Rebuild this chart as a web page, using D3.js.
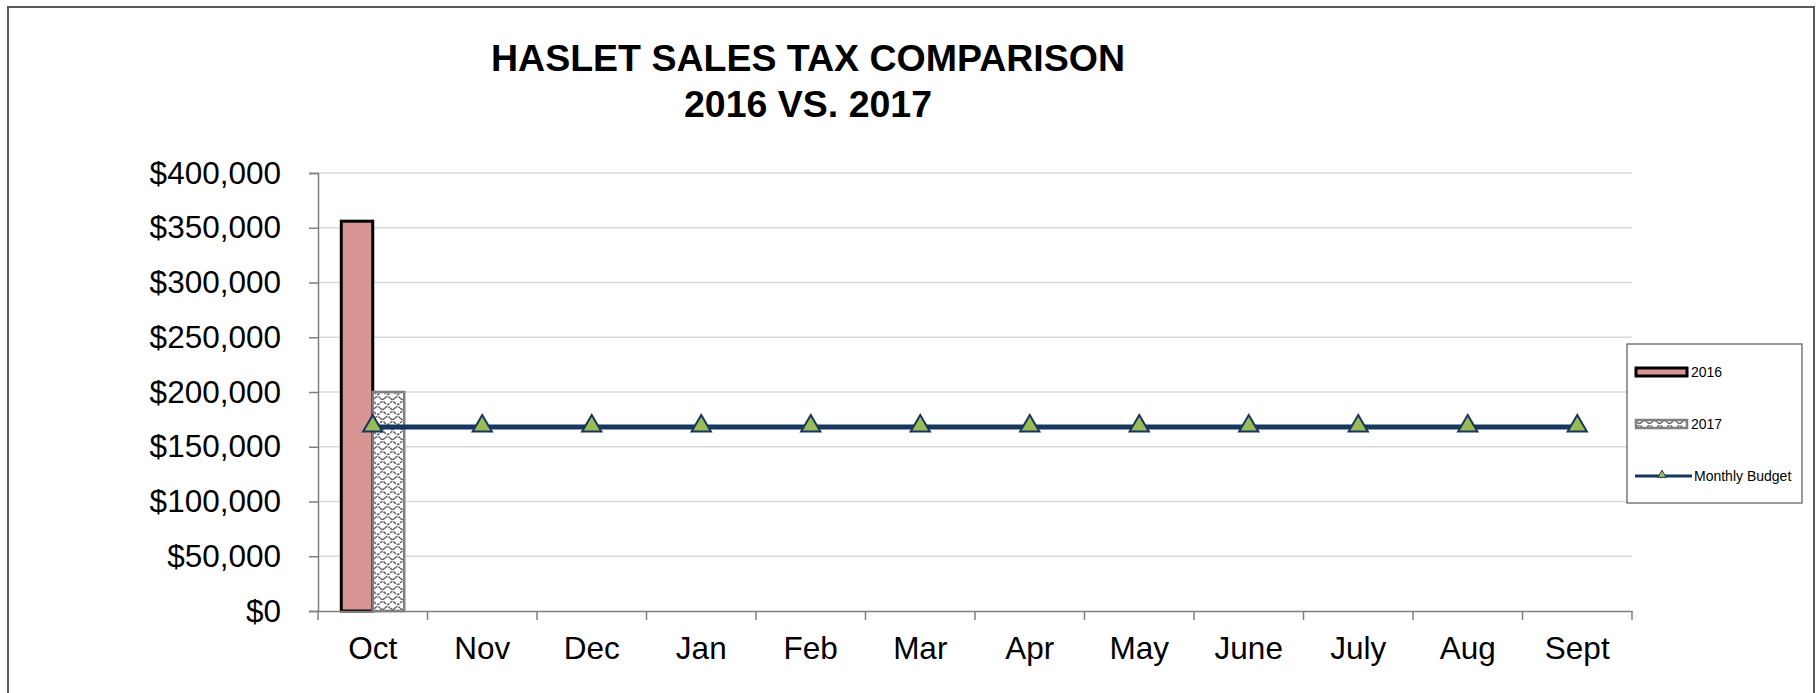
<!DOCTYPE html>
<html>
<head>
<meta charset="utf-8">
<script src="https://cdn.jsdelivr.net/npm/d3@7"></script>
<style>
  body { margin: 0; background: #fff; }
  svg text { font-family: "Liberation Sans", Arial, sans-serif; }
</style>
</head>
<body>
<script>
// chart data
var months = ["Oct", "Nov", "Dec", "Jan", "Feb", "Mar", "Apr", "May", "June", "July", "Aug", "Sept"];
var sales2016 = [356000, null, null, null, null, null, null, null, null, null, null, null];
var sales2017 = [200000, null, null, null, null, null, null, null, null, null, null, null];
var budget = [168000, 168000, 168000, 168000, 168000, 168000, 168000, 168000, 168000, 168000, 168000, 168000];
var yTicks = [0, 50000, 100000, 150000, 200000, 250000, 300000, 350000, 400000];
var seriesNames = ["2016", "2017", "Monthly Budget"];
var titleLines = ["HASLET SALES TAX COMPARISON", "2016 VS. 2017"];

//Width and height
var w = 1818;
var h = 693;

var svg = d3.select("body").append("svg").attr("width", w).attr("height", h);

// pattern for the 2017 bars
var defs = svg.append("defs");
var pat = defs.append("pattern").attr("id", "scales")
  .attr("patternUnits", "userSpaceOnUse")
  .attr("width", 10).attr("height", 10);
pat.append("rect").attr("width", 10).attr("height", 10).attr("fill", "#fff");
pat.append("path")
  .attr("d", "M0,3 Q2.5,0 5,3 Q7.5,6 10,3 M0,8 L2.5,10 M5,8 Q7.5,5 10,8 M5,8 L2.5,10")
  .attr("fill", "none").attr("stroke", "#666").attr("stroke-width", 1.5)
  .attr("stroke-dasharray", "3,1");

// outer frame
svg.append("rect").attr("x", 8).attr("y", 7).attr("width", 1806).attr("height", 760)
  .attr("fill", "#fff").attr("stroke", "#595959").attr("stroke-width", 2);

// title
svg.selectAll("text.title").data(titleLines).enter()
  .append("text").attr("class", "title")
  .attr("x", 808)
  .attr("y", function(d, i) { return 71 + i * 46; })
  .attr("text-anchor", "middle")
  .attr("font-size", 37.5).attr("font-weight", "bold")
  .text(function(d) { return d; });

// scales
var x = d3.scaleBand().domain(months).range([318, 1632]).padding(0);
var x1 = d3.scaleBand().domain(["2016", "2017"]).range([0, x.bandwidth()])
  .paddingInner(0).paddingOuter(0.74);
var y = d3.scaleLinear().domain([0, 400000]).range([611, 173]);

// gridlines
svg.selectAll("line.grid").data(yTicks.slice(1)).enter()
  .append("line").attr("class", "grid")
  .attr("x1", 318).attr("x2", 1632)
  .attr("y1", function(d) { return y(d); })
  .attr("y2", function(d) { return y(d); })
  .attr("stroke", "#d9d9d9").attr("stroke-width", 1.5);

// y axis
var yAxis = svg.append("g").attr("transform", "translate(318,0)")
  .call(d3.axisLeft(y).tickValues(yTicks).tickSize(9).tickPadding(28)
    .tickFormat(d3.format("$,")));
yAxis.select(".domain").attr("stroke", "#7f7f7f").attr("stroke-width", 1.5);
yAxis.selectAll(".tick line").attr("stroke", "#7f7f7f").attr("stroke-width", 1.5);
yAxis.selectAll("text").attr("font-size", 31.5).attr("fill", "#000")
  .attr("font-family", "Liberation Sans, Arial, sans-serif");

// bars
var bars2016 = months.map(function(m, i) { return {m: m, v: sales2016[i]}; })
  .filter(function(d) { return d.v != null; });
var bars2017 = months.map(function(m, i) { return {m: m, v: sales2017[i]}; })
  .filter(function(d) { return d.v != null; });

svg.selectAll("rect.b2016").data(bars2016).enter()
  .append("rect").attr("class", "b2016")
  .attr("x", function(d) { return x(d.m) + x1("2016"); })
  .attr("y", function(d) { return y(d.v); })
  .attr("width", x1.bandwidth())
  .attr("height", function(d) { return y(0) - y(d.v); })
  .attr("fill", "#d99594").attr("stroke", "#000").attr("stroke-width", 3);

svg.selectAll("rect.b2017").data(bars2017).enter()
  .append("rect").attr("class", "b2017")
  .attr("x", function(d) { return x(d.m) + x1("2017"); })
  .attr("y", function(d) { return y(d.v); })
  .attr("width", x1.bandwidth())
  .attr("height", function(d) { return y(0) - y(d.v); })
  .attr("fill", "url(#scales)").attr("stroke", "#808080").attr("stroke-width", 2.5);

// x axis
var xAxis = svg.append("g").attr("transform", "translate(0,611)")
  .call(d3.axisBottom(x).tickSize(0).tickPadding(26));
xAxis.select(".domain").attr("stroke", "#7f7f7f").attr("stroke-width", 1.5);
xAxis.selectAll("text").attr("font-size", 31.5).attr("fill", "#000")
  .attr("font-family", "Liberation Sans, Arial, sans-serif");
var xEdges = months.map(function(m) { return x(m); }).concat([x.range()[1]]);
xAxis.selectAll("line.edge").data(xEdges).enter()
  .append("line").attr("class", "edge")
  .attr("x1", function(d) { return d; }).attr("x2", function(d) { return d; })
  .attr("y1", 0).attr("y2", 9)
  .attr("stroke", "#7f7f7f").attr("stroke-width", 1.5);

// budget line
var line = d3.line()
  .x(function(d, i) { return x(months[i]) + x.bandwidth() / 2; })
  .y(function(d) { return y(d); });
svg.append("path").datum(budget).attr("d", line)
  .attr("fill", "none").attr("stroke", "#17375e").attr("stroke-width", 5);

var tri = d3.symbol().type(d3.symbolTriangle).size(160);
svg.selectAll("path.marker").data(budget).enter()
  .append("path").attr("class", "marker")
  .attr("d", tri)
  .attr("transform", function(d, i) {
    return "translate(" + (x(months[i]) + x.bandwidth() / 2) + "," + (y(d) - 1) + ")";
  })
  .attr("fill", "#9bbb59").attr("stroke", "#17375e").attr("stroke-width", 2);

// legend
var lg = svg.append("g").attr("transform", "translate(1627,344)");
lg.append("rect").attr("width", 175).attr("height", 159)
  .attr("fill", "#fff").attr("stroke", "#595959").attr("stroke-width", 1.2);
var ly = [28, 80, 132];
lg.append("rect").attr("x", 9).attr("y", ly[0] - 4).attr("width", 51).attr("height", 8)
  .attr("fill", "#d99594").attr("stroke", "#000").attr("stroke-width", 3);
lg.append("rect").attr("x", 9).attr("y", ly[1] - 4).attr("width", 51).attr("height", 8)
  .attr("fill", "url(#scales)").attr("stroke", "#808080").attr("stroke-width", 2.5);
lg.append("line").attr("x1", 8).attr("x2", 65).attr("y1", ly[2]).attr("y2", ly[2])
  .attr("stroke", "#17375e").attr("stroke-width", 3);
lg.append("path").attr("d", d3.symbol().type(d3.symbolTriangle).size(30))
  .attr("transform", "translate(35," + (ly[2] - 1) + ")")
  .attr("fill", "#9bbb59").attr("stroke", "#17375e").attr("stroke-width", 1);
lg.selectAll("text.lab").data(seriesNames).enter()
  .append("text").attr("class", "lab")
  .attr("x", function(d, i) { return i < 2 ? 64 : 67; })
  .attr("y", function(d, i) { return ly[i] + 5; })
  .attr("font-size", 14)
  .text(function(d) { return d; });
</script>
</body>
</html>
